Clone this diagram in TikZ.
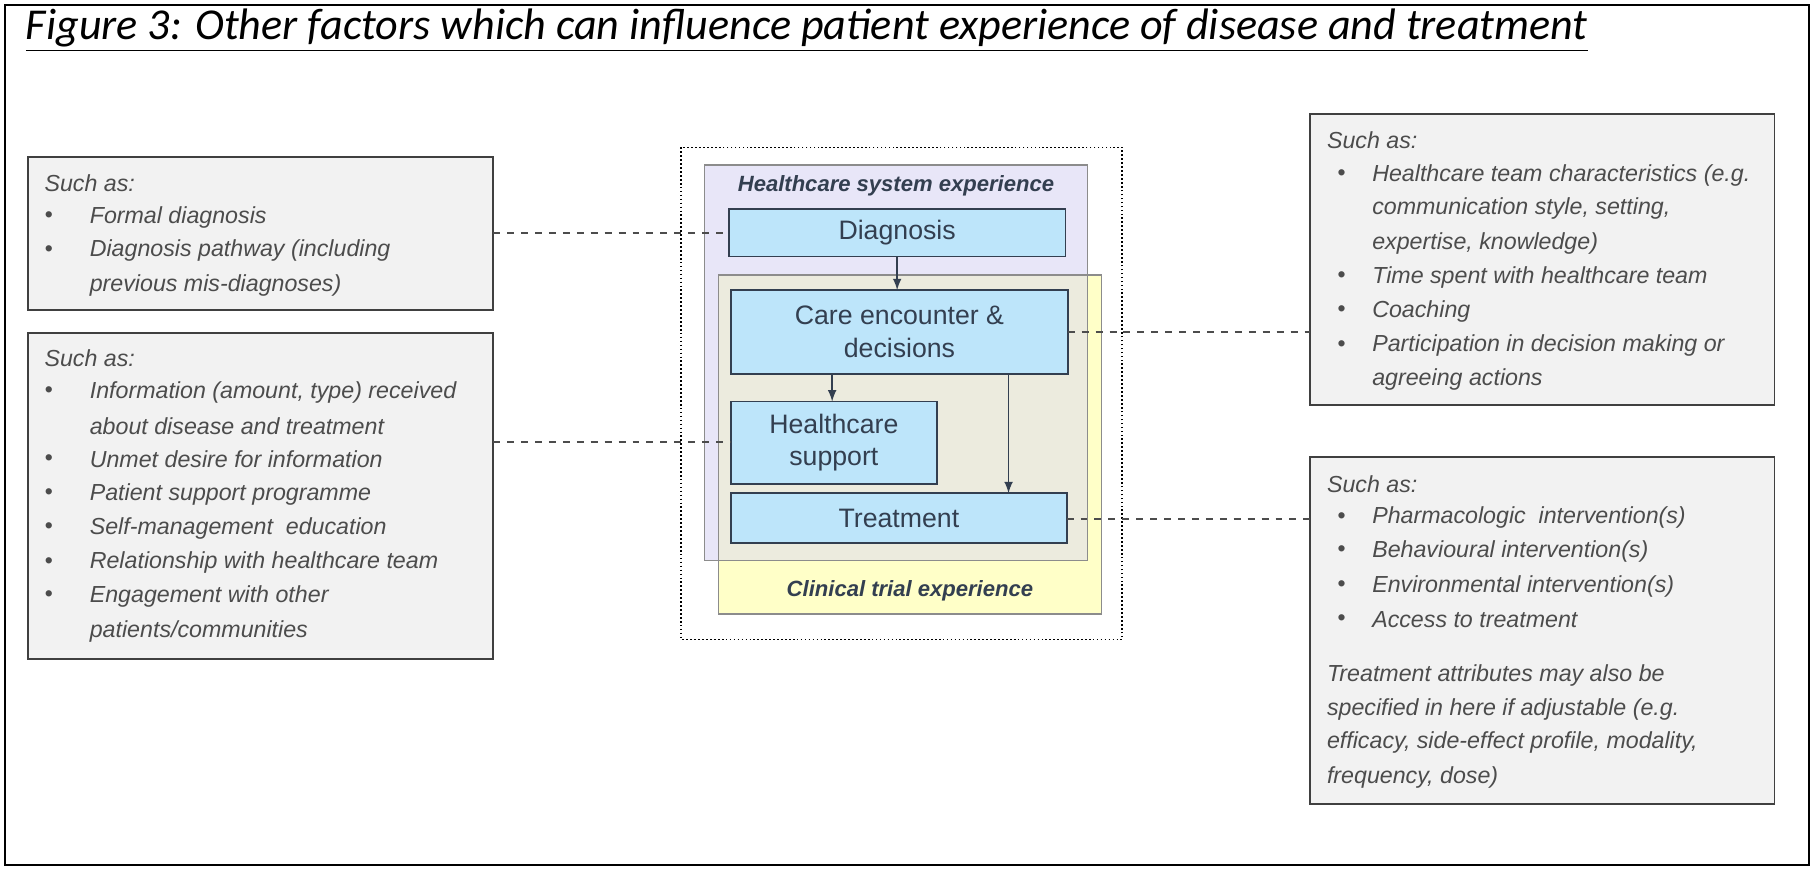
\documentclass[tikz,border=0pt]{standalone}
\usepackage{fontspec}
\setmainfont{Liberation Sans}
\newfontfamily\calib{Carlito}
\definecolor{lblue}{RGB}{189,229,250}
\definecolor{slate}{RGB}{51,63,80}
\begin{document}
\begin{tikzpicture}[x=0.5pt,y=-0.5pt,
  gbox/.style={draw=black!75,fill=black!5,line width=0.8pt},
  bbox/.style={draw=slate,fill=lblue,line width=0.8pt},
  lt/.style={anchor=west,inner sep=0,text=black!70,font=\fontsize{10}{12}\selectfont\itshape},
  bt/.style={align=center,text=slate,font=\fontsize{11.5}{14}\selectfont},
  dl/.style={dashed,draw=black!70,line width=0.7pt},
  ar/.style={-latex,draw=slate,line width=0.7pt}]
\useasboundingbox (0,0) rectangle (1563,753);
\draw[line width=0.8pt] (4,4) rectangle (1559,745);
\node[anchor=west,inner sep=0,font=\calib\fontsize{19}{22}\selectfont\itshape] (title) at (22,26) {\underline{Figure 3: Other factors which can influence patient experience of disease and treatment}};
% groups
\draw[densely dotted,line width=0.7pt] (587,127) rectangle (967,551);
\fill[fill={rgb,255:red,232;green,230;blue,248}] (607,142) rectangle (937,483);
\fill[fill={rgb,255:red,255;green,255;blue,200}] (619,237) rectangle (949,529);
\fill[fill={rgb,255:red,236;green,235;blue,222}] (619,237) rectangle (937,483);
\draw[black!45,line width=0.7pt] (607,142) rectangle (937,483);
\draw[black!45,line width=0.7pt] (619,237) rectangle (949,529);
\node[font=\fontsize{9.5}{11}\selectfont\bfseries\itshape,text=slate] (hse) at (772,160) {Healthcare system experience};
\node[font=\fontsize{9.5}{11}\selectfont\bfseries\itshape,text=slate] (cte) at (784,509) {Clinical trial experience};
% blue boxes
\draw[bbox] (628,180) rectangle (918,221); \node[bt] (d) at (773,200.5) {Diagnosis};
\draw[bbox] (630,250) rectangle (920,322); \node[bt] (c) at (775,286) {Care encounter \&\\decisions};
\draw[bbox] (630,346) rectangle (807,417); \node[bt] (h) at (718.5,381.5) {Healthcare\\support};
\draw[bbox] (630,425) rectangle (919,468); \node[bt] (t) at (774.5,446.5) {Treatment};
\coordinate (d1) at (773,221); \coordinate (c1) at (773,250);
\coordinate (c2) at (717,322); \coordinate (h1) at (717,346);
\coordinate (c3) at (869,322); \coordinate (t1) at (869,425);
\draw[ar] (d1) -- (c1); \draw[ar] (c2) -- (h1); \draw[ar] (c3) -- (t1);
% grey boxes
\draw[gbox] (24,135) rectangle (425,267);
\draw[gbox] (24,287) rectangle (425,568);
\draw[gbox] (1129,98) rectangle (1529,349);
\draw[gbox] (1129,394) rectangle (1529,693);
% dashed connectors
\coordinate (l1) at (425,201); \coordinate (dl1) at (628,201);
\coordinate (l2) at (425,381); \coordinate (hl) at (630,381);
\coordinate (cr) at (920,286); \coordinate (r1) at (1129,286);
\coordinate (tr) at (919,447); \coordinate (r2) at (1129,447);
\draw[dl] (l1) -- (dl1); \draw[dl] (l2) -- (hl); \draw[dl] (cr) -- (r1); \draw[dl] (tr) -- (r2);
% left texts
\node[lt] (a0) at (38,158) {Such as:};
\foreach \y/\t [count=\i] in {187/Formal diagnosis,216/Diagnosis pathway (including}{\node[lt] (ab\i) at (38,\y) {\textbullet}; \node[lt] (at\i) at (77,\y) {\t};}
\node[lt] (a3) at (77,246) {previous mis-diagnoses)};
\node[lt] (b0) at (38,309) {Such as:};
\foreach \y/\t [count=\i] in {338/{Information (amount, type) received},396/Unmet desire for information,426/Patient support programme,455/Self-management\ \ education,485/Relationship with healthcare team,514/Engagement with other}{\node[lt] (bb\i) at (38,\y) {\textbullet}; \node[lt] (bt\i) at (77,\y) {\t};}
\node[lt] (bx1) at (77,367) {about disease and treatment};
\node[lt] (bx2) at (77,544) {patients/communities};
% right texts
\node[lt] (c0) at (1143,121) {Such as:};
\foreach \y/\t [count=\i] in {151/Healthcare team characteristics (e.g.,239/Time spent with healthcare team,268/Coaching,298/Participation in decision making or}{\node[lt] (cb\i) at (1152,\y) {\textbullet}; \node[lt] (ct\i) at (1182,\y) {\t};}
\node[lt] (cx1) at (1182,180) {communication style, setting,};
\node[lt] (cx2) at (1182,210) {expertise, knowledge)};
\node[lt] (cx3) at (1182,327) {agreeing actions};
\node[lt] (e0) at (1143,417) {Such as:};
\foreach \y/\t [count=\i] in {446/Pharmacologic\ \ intervention(s),475/Behavioural intervention(s),505/Environmental intervention(s),534/Access to treatment}{\node[lt] (eb\i) at (1152,\y) {\textbullet}; \node[lt] (et\i) at (1182,\y) {\t};}
\foreach \y/\t [count=\i] in {582/Treatment attributes may also be,611/specified in here if adjustable (e.g.,640/{efficacy, side-effect profile, modality,},670/{frequency, dose)}}{\node[lt] (ex\i) at (1143,\y) {\t};}
\end{tikzpicture}
\end{document}
